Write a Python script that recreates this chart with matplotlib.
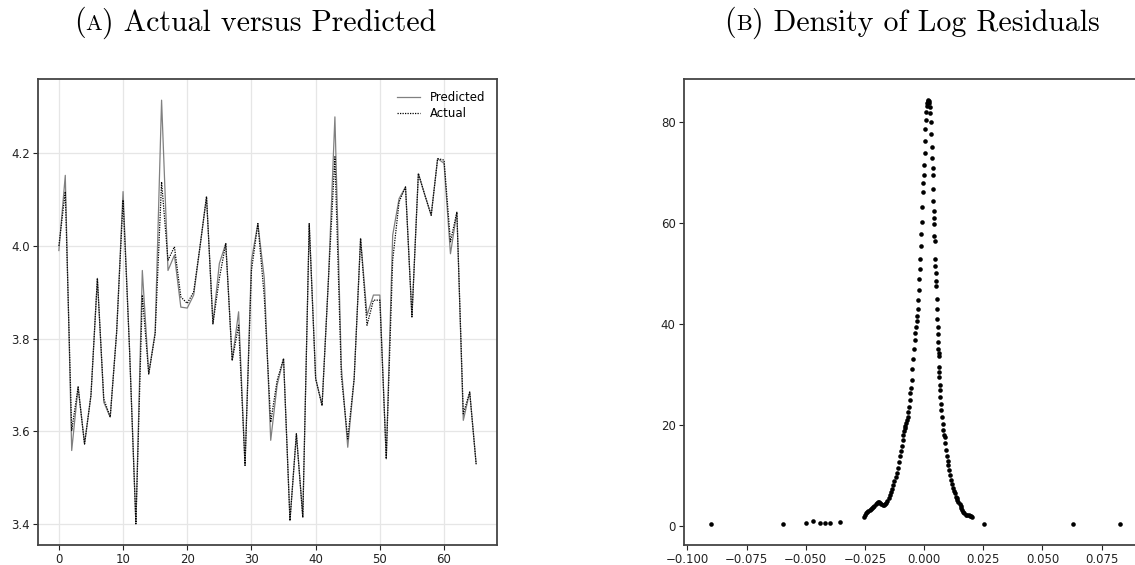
import numpy as np
import matplotlib
matplotlib.use("Agg")
import matplotlib.pyplot as plt
from matplotlib.offsetbox import TextArea, HPacker, AnchoredOffsetbox

# test-set log prices, model output vs observed
predicted = [3.99, 4.152, 3.559, 3.696, 3.573, 3.678, 3.930, 3.663, 3.631, 3.814,
             4.117, 3.78, 3.401, 3.947, 3.724, 3.814, 4.314, 3.947, 3.98, 3.868,
             3.866, 3.894, 4.00, 4.106, 3.832, 3.962, 4.005, 3.753, 3.858, 3.527,
             3.969, 4.048, 3.93, 3.581, 3.70, 3.757, 3.408, 3.595, 3.415, 4.048,
             3.714, 3.656, 3.93, 4.278, 3.74, 3.566, 3.714, 4.016, 3.850, 3.894,
             3.894, 3.541, 4.023, 4.102, 4.127, 3.847, 4.156, 4.11, 4.066, 4.188,
             4.178, 3.983, 4.073, 3.624, 3.685, 3.53]
actual = [4.00, 4.117, 3.602, 3.696, 3.573, 3.678, 3.930, 3.67, 3.631, 3.814,
          4.099, 3.78, 3.401, 3.894, 3.724, 3.81, 4.138, 3.969, 3.998, 3.890,
          3.876, 3.901, 4.00, 4.106, 3.832, 3.930, 4.005, 3.753, 3.829, 3.527,
          3.947, 4.048, 3.89, 3.620, 3.71, 3.757, 3.408, 3.595, 3.415, 4.048,
          3.714, 3.656, 3.93, 4.192, 3.72, 3.584, 3.714, 4.016, 3.829, 3.883,
          3.883, 3.541, 3.969, 4.095, 4.127, 3.847, 4.156, 4.11, 4.066, 4.188,
          4.185, 4.009, 4.073, 3.638, 3.685, 3.53]

# kernel density of the log residuals, evaluated at each residual
resid = [-0.0902, -0.0594, -0.0498, -0.0471, -0.0441, -0.0420, -0.0399, -0.0357,
         -0.0255, -0.0250, -0.0245, -0.0240, -0.0235, -0.0230, -0.0225, -0.0220,
         -0.0215, -0.0210, -0.0205, -0.0200, -0.0195, -0.0190, -0.0185, -0.0180,
         -0.0175, -0.0170, -0.0165, -0.0160, -0.0155, -0.0150, -0.0145, -0.0140,
         -0.0135, -0.0130, -0.0125, -0.0120, -0.0115, -0.0110, -0.0105, -0.0100,
         -0.0097, -0.0094, -0.0091, -0.0088, -0.0085, -0.0082, -0.0079, -0.0076,
         -0.0073, -0.0070, -0.0067, -0.0064, -0.0061, -0.0058, -0.0055, -0.0052,
         -0.0049, -0.0046, -0.0043, -0.0040, -0.0037, -0.0034, -0.0031, -0.0028,
         -0.0026, -0.0024, -0.0022, -0.0020, -0.0018, -0.0016, -0.0014, -0.0012,
         -0.0010, -0.0008, -0.0006, -0.0004, -0.0002, 0.0000, 0.0002, 0.0004,
         0.0006, 0.0008, 0.0010, 0.0012, 0.0014, 0.0016, 0.0018, 0.0020,
         0.0022, 0.0024, 0.0026, 0.0028, 0.0030, 0.0032, 0.0034, 0.0036,
         0.0037, 0.0038, 0.0039, 0.0040, 0.0041, 0.0042, 0.0044, 0.0045,
         0.0047, 0.0048, 0.0049, 0.0050, 0.0052, 0.0054, 0.0055, 0.0056,
         0.0057, 0.0058, 0.0059, 0.0060, 0.0061, 0.0062, 0.0063, 0.0064,
         0.0065, 0.0066, 0.0067, 0.0069, 0.0071, 0.0073, 0.0076, 0.0079,
         0.0082, 0.0085, 0.0087, 0.0090, 0.0093, 0.0096, 0.0100, 0.0103,
         0.0106, 0.0110, 0.0114, 0.0118, 0.0122, 0.0126, 0.0130, 0.0134,
         0.0137, 0.0141, 0.0145, 0.0150, 0.0155, 0.0158, 0.0162, 0.0166,
         0.0170, 0.0176, 0.0182, 0.0188, 0.0194, 0.0200, 0.0204,
         0.0252, 0.0630, 0.0828]
density = [0.4, 0.4, 0.5, 0.86, 0.5, 0.5, 0.5, 0.8,
           1.8, 2.2, 2.5, 2.8, 3.0, 3.1, 3.3, 3.5,
           3.7, 4.0, 4.3, 4.6, 4.7, 4.7, 4.6, 4.4,
           4.2, 4.2, 4.3, 4.6, 5.0, 5.5, 6.1, 6.7,
           7.3, 8.0, 8.8, 9.6, 10.5, 11.5, 12.6, 13.8,
           14.8, 15.8, 17.0, 18.0, 18.8, 19.3, 19.8, 20.4,
           21.0, 21.6, 22.5, 23.6, 25.0, 26.3, 27.4, 29.0,
           31.0, 33.0, 35.0, 36.8, 38.3, 39.5, 40.6, 41.6,
           43.0, 44.8, 46.8, 49.0, 51.0, 53.0, 55.5, 57.8,
           60.2, 63.2, 66.1, 68.0, 69.6, 71.6, 74.0, 76.3,
           78.6, 80.5, 82.0, 83.2, 83.9, 84.3, 84.4, 84.3,
           83.9, 83.1, 81.8, 80.0, 77.7, 75.2, 73.0, 71.0,
           69.5, 66.8, 64.5, 62.5, 61.0, 59.9, 57.5, 56.5,
           53.0, 51.5, 50.2, 48.5, 47.5, 44.9, 43.0, 41.0,
           39.5, 38.0, 36.5, 35.0, 34.3, 33.6, 31.5, 30.5,
           29.5, 28.0, 27.0, 25.5, 24.2, 23.0, 21.5, 20.2,
           19.0, 18.0, 17.7, 16.5, 15.0, 13.8, 12.8, 12.0,
           11.1, 10.0, 9.1, 8.3, 7.6, 7.0, 6.5, 5.8,
           5.5, 5.2, 4.8, 4.4, 4.0, 3.6, 3.2, 2.8,
           2.5, 2.2, 2.1, 2.1, 2.0, 1.9, 1.7,
           0.4, 0.4, 0.4]

W, H = 1135, 565
fig = plt.figure(figsize=(W / 100, H / 100), dpi=100)

spine_col = "#444444"


def px_axes(l, r, t, b):
    return fig.add_axes([l / W, 1 - b / H, (r - l) / W, (b - t) / H])


def style(ax):
    for s in ax.spines.values():
        s.set_color(spine_col)
        s.set_linewidth(1.3)
    ax.tick_params(labelsize=8.5, colors="#222222", length=3.5, width=0.8,
                   pad=2.5)


def caption(x, y, letter, text):
    big = dict(family="cmr10", fontsize=21.5, color="black")
    small = dict(family="cmr10", fontsize=16, color="black")
    box = HPacker(children=[TextArea("(", textprops=big),
                            TextArea(letter, textprops=small),
                            TextArea(") " + text, textprops=big)],
                  align="baseline", pad=0, sep=0)
    anch = AnchoredOffsetbox(loc="center", child=box, pad=0, borderpad=0,
                             frameon=False, bbox_to_anchor=(x / W, 1 - y / H),
                             bbox_transform=fig.transFigure)
    fig.add_artist(anch)


# left: actual vs predicted
ax1 = px_axes(38, 497, 79, 545)
idx = np.arange(len(predicted))
ax1.plot(idx, predicted, color="#808080", lw=0.9, label="Predicted")
ax1.plot(idx, actual, color="black", lw=0.9, ls=(0, (1, 1)), label="Actual")
ax1.grid(True, color="#e6e6e6", lw=0.9)
ax1.set_axisbelow(True)
style(ax1)
ax1.legend(loc="upper right", frameon=False, fontsize=8.5, handlelength=2.0,
           borderaxespad=0.6, labelspacing=0.3)

# right: residual density
ax2 = px_axes(684, 1140, 79, 545)
ax2.plot(resid, density, "o", color="black", ms=3.3, mew=0, ls="none")
ax2.set_xlim(-0.1014, 0.0912)
style(ax2)

caption(255, 23, "A", "Actual versus Predicted")
caption(912, 23, "B", "Density of Log Residuals")

fig.savefig("out.png", dpi=100)
